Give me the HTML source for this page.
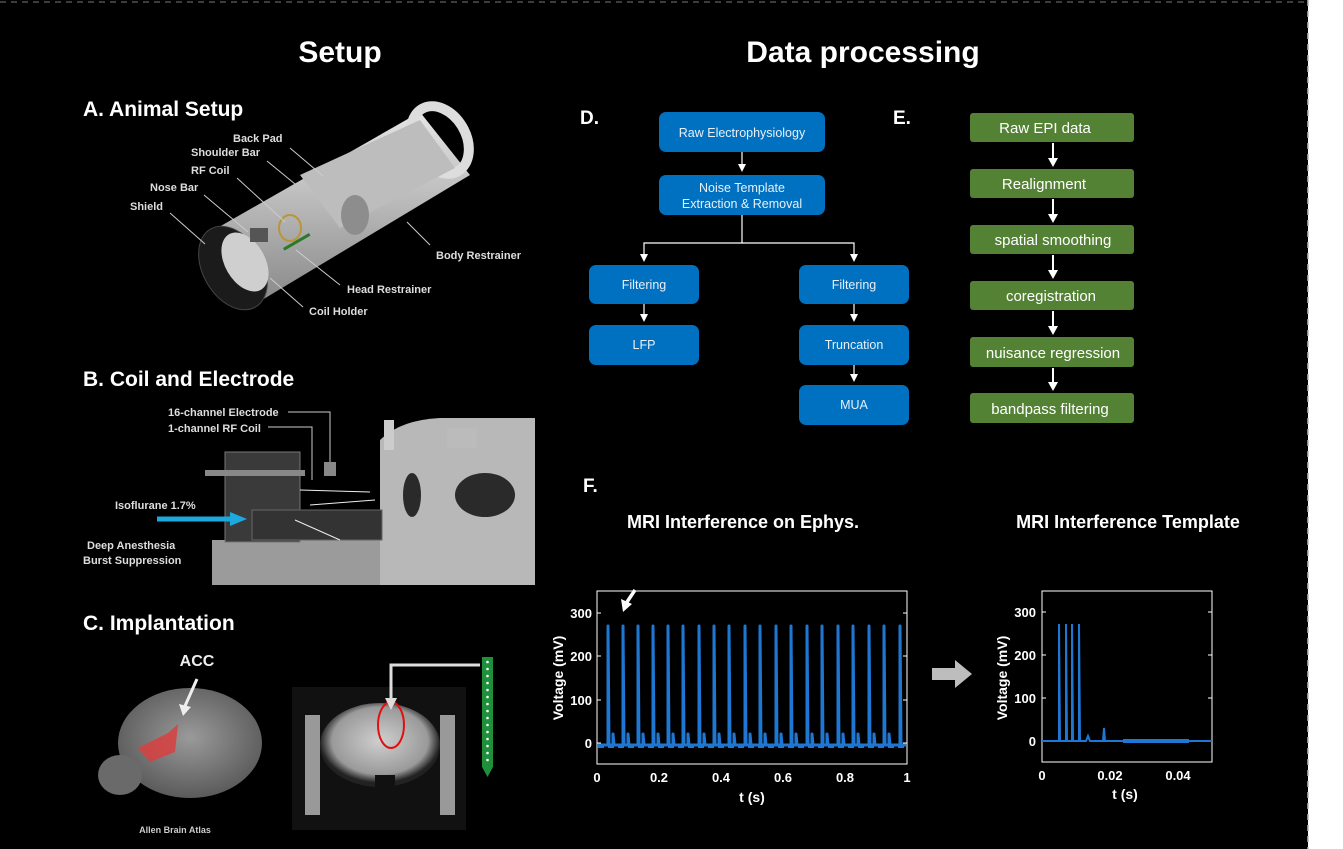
<!DOCTYPE html>
<html><head><meta charset="utf-8"><style>
html,body{margin:0;padding:0;background:#fff}
svg{display:block}
text{font-family:"Liberation Sans",Arial,sans-serif}
</style></head><body>
<svg width="1343" height="849" viewBox="0 0 1343 849" xmlns="http://www.w3.org/2000/svg">
<defs>
<marker id="ah" markerWidth="8" markerHeight="8" refX="4" refY="4" orient="auto" markerUnits="userSpaceOnUse"><path d="M0,0 L8,4 L0,8 z" fill="#fff"/></marker>
<linearGradient id="gc" x1="0" y1="0" x2="0" y2="1"><stop offset="0" stop-color="#e6e6e6"/><stop offset="1" stop-color="#8a8a8a"/></linearGradient>
<radialGradient id="br" cx="0.5" cy="0.45" r="0.6"><stop offset="0" stop-color="#9a9a9a"/><stop offset="1" stop-color="#555"/></radialGradient>
<radialGradient id="mri" cx="0.5" cy="0.45" r="0.5"><stop offset="0" stop-color="#cfcfcf"/><stop offset="0.8" stop-color="#9a9a9a"/><stop offset="1" stop-color="#222"/></radialGradient>
</defs>
<rect x="0" y="0" width="1308" height="849" fill="#000"/>
<line x1="1308" y1="0" x2="1308" y2="849" stroke="#bbb" stroke-width="1.5" stroke-dasharray="6,5"/>
<line x1="0" y1="2" x2="1308" y2="2" stroke="#777" stroke-width="1" stroke-dasharray="6,5"/>

<text x="340" y="62" fill="#fff" font-size="30" font-weight="bold" text-anchor="middle">Setup</text>
<text x="863" y="62" fill="#fff" font-size="30" font-weight="bold" text-anchor="middle">Data processing</text>

<!-- A -->
<text x="83" y="116" fill="#fff" font-size="21" font-weight="bold">A. Animal Setup</text>
<g>
 <polygon points="205,235 420,112 470,175 262,300" fill="url(#gc)"/>
 <ellipse cx="233" cy="268" rx="30" ry="45" transform="rotate(-30 233 268)" fill="#1b1b1b" stroke="#444"/>
 <ellipse cx="245" cy="262" rx="20" ry="32" transform="rotate(-30 245 262)" fill="#cfcfcf"/>
 <ellipse cx="440" cy="140" rx="26" ry="36" transform="rotate(-30 440 140)" fill="none" stroke="#ddd" stroke-width="10"/>
 <polygon points="300,175 420,120 455,168 340,228" fill="#bdbdbd"/>
 <ellipse cx="355" cy="215" rx="14" ry="20" fill="#8d8d8d"/>
 <ellipse cx="290" cy="228" rx="11" ry="13" fill="none" stroke="#b8953b" stroke-width="2"/>
 <rect x="283" y="248" width="30" height="3" fill="#2a7a2a" transform="rotate(-30 283 248)"/>
 <rect x="250" y="228" width="18" height="14" fill="#555"/>
</g>
<g fill="#ddd" font-size="11" font-weight="bold">
 <text x="233" y="142">Back Pad</text>
 <text x="191" y="156">Shoulder Bar</text>
 <text x="191" y="174">RF Coil</text>
 <text x="150" y="191">Nose Bar</text>
 <text x="130" y="210">Shield</text>
 <text x="436" y="259">Body Restrainer</text>
 <text x="347" y="293">Head Restrainer</text>
 <text x="309" y="315">Coil Holder</text>
</g>
<g stroke="#ccc" stroke-width="1">
 <line x1="290" y1="148" x2="323" y2="176"/><line x1="267" y1="161" x2="295" y2="184"/>
 <line x1="237" y1="178" x2="285" y2="222"/><line x1="204" y1="195" x2="248" y2="232"/>
 <line x1="170" y1="213" x2="205" y2="244"/><line x1="407" y1="222" x2="430" y2="245"/>
 <line x1="340" y1="285" x2="296" y2="250"/><line x1="303" y1="307" x2="270" y2="278"/>
</g>

<!-- B -->
<text x="83" y="386" fill="#fff" font-size="21" font-weight="bold">B. Coil and Electrode</text>
<g>
 <rect x="212" y="540" width="323" height="45" fill="#9b9b9b"/>
 <path d="M380,440 Q400,420 440,418 L535,418 L535,585 L380,585 z" fill="#b8b8b8"/>
 <ellipse cx="412" cy="495" rx="9" ry="22" fill="#2a2a2a"/>
 <ellipse cx="485" cy="495" rx="30" ry="22" fill="#2a2a2a"/>
 <rect x="384" y="420" width="10" height="30" fill="#ccc"/>
 <rect x="447" y="428" width="30" height="20" fill="#bbb"/>
 <rect x="225" y="452" width="75" height="90" fill="#3a3a3a" stroke="#777"/>
 <rect x="205" y="470" width="100" height="6" fill="#888"/>
 <rect x="252" y="510" width="130" height="30" fill="#333" stroke="#666"/>
 <path d="M300,490 L370,492 M310,505 L375,500 M295,520 L340,540" stroke="#eee" stroke-width="1" fill="none"/>
 <rect x="324" y="462" width="12" height="14" fill="#888"/>
</g>
<g fill="#ddd" font-size="11" font-weight="bold">
 <text x="168" y="416">16-channel Electrode</text>
 <text x="168" y="432">1-channel RF Coil</text>
 <text x="115" y="509">Isoflurane 1.7%</text>
 <text x="87" y="549">Deep Anesthesia</text>
 <text x="83" y="564">Burst Suppression</text>
</g>
<polyline points="288,412 330,412 330,462" fill="none" stroke="#ccc" stroke-width="1"/>
<polyline points="268,427 312,427 312,480" fill="none" stroke="#ccc" stroke-width="1"/>
<line x1="157" y1="519" x2="232" y2="519" stroke="#1ba9e0" stroke-width="5"/>
<polygon points="230,512 247,519 230,526" fill="#1ba9e0"/>

<!-- C -->
<text x="83" y="630" fill="#fff" font-size="21" font-weight="bold">C. Implantation</text>
<text x="197" y="666" fill="#eee" font-size="16" font-weight="bold" text-anchor="middle">ACC</text>
<ellipse cx="190" cy="743" rx="72" ry="55" fill="url(#br)"/>
<ellipse cx="120" cy="775" rx="22" ry="20" fill="#6a6a6a"/>
<polygon points="138,748 168,733 178,724 175,752 150,762" fill="#d9403f" opacity="0.85"/>
<line x1="197" y1="679" x2="185" y2="706" stroke="#eee" stroke-width="3"/>
<polygon points="179,704 183,716 191,707" fill="#eee"/>
<text x="175" y="833" fill="#ccc" font-size="9" font-weight="bold" text-anchor="middle">Allen Brain Atlas</text>
<rect x="292" y="687" width="174" height="143" fill="#111"/>
<ellipse cx="380" cy="745" rx="60" ry="42" fill="url(#mri)"/>
<rect x="305" y="715" width="15" height="100" fill="#999"/>
<rect x="440" y="715" width="15" height="100" fill="#999"/>
<rect x="375" y="775" width="20" height="12" fill="#111"/>
<ellipse cx="391" cy="725" rx="13" ry="23" fill="none" stroke="#e01010" stroke-width="2"/>
<polyline points="480,665 391,665 391,700" fill="none" stroke="#ddd" stroke-width="3"/>
<polygon points="385,698 391,710 397,698" fill="#ddd"/>
<polygon points="482,657 493,657 493,767 487.5,777 482,767" fill="#1e8f3a"/>
<g fill="#fff"><circle cx="487.5" cy="662" r="1.3"/><circle cx="487.5" cy="669" r="1.3"/><circle cx="487.5" cy="676" r="1.3"/><circle cx="487.5" cy="683" r="1.3"/><circle cx="487.5" cy="690" r="1.3"/><circle cx="487.5" cy="697" r="1.3"/><circle cx="487.5" cy="704" r="1.3"/><circle cx="487.5" cy="711" r="1.3"/><circle cx="487.5" cy="718" r="1.3"/><circle cx="487.5" cy="725" r="1.3"/><circle cx="487.5" cy="732" r="1.3"/><circle cx="487.5" cy="739" r="1.3"/><circle cx="487.5" cy="746" r="1.3"/><circle cx="487.5" cy="753" r="1.3"/><circle cx="487.5" cy="760" r="1.3"/></g>

<!-- D -->
<text x="580" y="124" fill="#fff" font-size="19" font-weight="bold">D.</text>
<g fill="#0070c0">
 <rect x="659" y="112" width="166" height="40" rx="7"/>
 <rect x="659" y="175" width="166" height="40" rx="7"/>
 <rect x="589" y="265" width="110" height="39" rx="7"/>
 <rect x="589" y="325" width="110" height="40" rx="7"/>
 <rect x="799" y="265" width="110" height="39" rx="7"/>
 <rect x="799" y="325" width="110" height="40" rx="7"/>
 <rect x="799" y="385" width="110" height="40" rx="7"/>
</g>
<g fill="#e8f0f8" font-size="12.5" text-anchor="middle">
 <text x="742" y="137">Raw Electrophysiology</text>
 <text x="742" y="192">Noise Template</text>
 <text x="742" y="208">Extraction &amp; Removal</text>
 <text x="644" y="289">Filtering</text>
 <text x="644" y="349">LFP</text>
 <text x="854" y="289">Filtering</text>
 <text x="854" y="349">Truncation</text>
 <text x="854" y="409">MUA</text>
</g>
<g stroke="#fff" stroke-width="1.2" fill="none">
 <line x1="742" y1="152" x2="742" y2="168" marker-end="url(#ah)"/>
 <polyline points="742,215 742,243 644,243 644,258" marker-end="url(#ah)"/>
 <polyline points="742,243 854,243 854,258" marker-end="url(#ah)"/>
 <line x1="644" y1="304" x2="644" y2="318" marker-end="url(#ah)"/>
 <line x1="854" y1="304" x2="854" y2="318" marker-end="url(#ah)"/>
 <line x1="854" y1="365" x2="854" y2="378" marker-end="url(#ah)"/>
</g>

<!-- E -->
<text x="893" y="124" fill="#fff" font-size="19" font-weight="bold">E.</text>
<g fill="#548235">
 <rect x="970" y="113" width="164" height="29" rx="3"/>
 <rect x="970" y="169" width="164" height="29" rx="3"/>
 <rect x="970" y="225" width="164" height="29" rx="3"/>
 <rect x="970" y="281" width="164" height="29" rx="3"/>
 <rect x="970" y="337" width="164" height="30" rx="3"/>
 <rect x="970" y="393" width="164" height="30" rx="3"/>
</g>
<g fill="#fff" font-size="15" text-anchor="middle">
 <text x="1045" y="133">Raw EPI data</text>
 <text x="1044" y="189">Realignment</text>
 <text x="1053" y="245">spatial smoothing</text>
 <text x="1051" y="301">coregistration</text>
 <text x="1053" y="358">nuisance regression</text>
 <text x="1050" y="414">bandpass filtering</text>
</g>
<g stroke="#fff" stroke-width="2" fill="#fff">
 <line x1="1053" y1="143" x2="1053" y2="160"/><polygon points="1048,158 1053,167 1058,158" stroke="none"/>
 <line x1="1053" y1="199" x2="1053" y2="216"/><polygon points="1048,214 1053,223 1058,214" stroke="none"/>
 <line x1="1053" y1="255" x2="1053" y2="272"/><polygon points="1048,270 1053,279 1058,270" stroke="none"/>
 <line x1="1053" y1="311" x2="1053" y2="328"/><polygon points="1048,326 1053,335 1058,326" stroke="none"/>
 <line x1="1053" y1="368" x2="1053" y2="384"/><polygon points="1048,382 1053,391 1058,382" stroke="none"/>
</g>

<!-- F -->
<text x="583" y="492" fill="#fff" font-size="19" font-weight="bold">F.</text>
<text x="743" y="528" fill="#fff" font-size="18" font-weight="bold" text-anchor="middle">MRI Interference on Ephys.</text>
<text x="1128" y="528" fill="#fff" font-size="18" font-weight="bold" text-anchor="middle">MRI Interference Template</text>

<!-- plot 1 -->
<g>
 <rect x="597" y="591" width="310" height="173" fill="none" stroke="#fff" stroke-width="1"/>
 <g stroke="#fff" stroke-width="1">
  <line x1="597" y1="613" x2="601" y2="613"/><line x1="597" y1="656" x2="601" y2="656"/><line x1="597" y1="700" x2="601" y2="700"/><line x1="597" y1="743" x2="601" y2="743"/>
  <line x1="903" y1="613" x2="907" y2="613"/><line x1="903" y1="656" x2="907" y2="656"/><line x1="903" y1="700" x2="907" y2="700"/><line x1="903" y1="743" x2="907" y2="743"/>
 </g>
 <g fill="#fff" font-size="13" font-weight="bold" text-anchor="end">
  <text x="592" y="618">300</text><text x="592" y="661">200</text><text x="592" y="705">100</text><text x="592" y="748">0</text>
 </g>
 <g fill="#fff" font-size="13" font-weight="bold" text-anchor="middle">
  <text x="597" y="782">0</text><text x="659" y="782">0.2</text><text x="721" y="782">0.4</text><text x="783" y="782">0.6</text><text x="845" y="782">0.8</text><text x="907" y="782">1</text>
  <text x="752" y="802" font-size="14">t (s)</text>
 </g>
 <text transform="translate(563,678) rotate(-90)" fill="#fff" font-size="14" font-weight="bold" text-anchor="middle">Voltage (mV)</text>
 <path fill="none" stroke="#1f77d4" stroke-width="3" stroke-linejoin="round" d="M598,745 L608,745 L608,626 L609,745 L613,745 L613,734 L614,745 L623,745 L623,626 L624,745 L628,745 L628,734 L629,745 L638,745 L638,626 L639,745 L643,745 L643,734 L644,745 L653,745 L653,626 L654,745 L658,745 L658,734 L659,745 L668,745 L668,626 L669,745 L673,745 L673,734 L674,745 L683,745 L683,626 L684,745 L688,745 L688,734 L689,745 L699,745 L699,626 L700,745 L704,745 L704,734 L705,745 L714,745 L714,626 L715,745 L719,745 L719,734 L720,745 L729,745 L729,626 L730,745 L734,745 L734,734 L735,745 L745,745 L745,626 L746,745 L750,745 L750,734 L751,745 L760,745 L760,626 L761,745 L765,745 L765,734 L766,745 L776,745 L776,626 L777,745 L781,745 L781,734 L782,745 L791,745 L791,626 L792,745 L796,745 L796,734 L797,745 L807,745 L807,626 L808,745 L812,745 L812,734 L813,745 L822,745 L822,626 L823,745 L827,745 L827,734 L828,745 L838,745 L838,626 L839,745 L843,745 L843,734 L844,745 L853,745 L853,626 L854,745 L858,745 L858,734 L859,745 L869,745 L869,626 L870,745 L874,745 L874,734 L875,745 L884,745 L884,626 L885,745 L889,745 L889,734 L890,745 L900,745 L900,626 L901,745 L906,745"/>
 <line x1="598" y1="746" x2="906" y2="746" stroke="#1f77d4" stroke-width="4" stroke-dasharray="6,4"/>
 <line x1="635" y1="590" x2="627" y2="602" stroke="#fff" stroke-width="3.5"/>
 <polygon points="621,599 623,612 632,604" fill="#fff"/>
</g>

<polygon points="932,668 955,668 955,660 972,674 955,688 955,680 932,680" fill="#bdbdbd"/>

<!-- plot 2 -->
<g>
 <rect x="1042" y="591" width="170" height="171" fill="none" stroke="#fff" stroke-width="1"/>
 <g stroke="#fff" stroke-width="1">
  <line x1="1042" y1="612" x2="1046" y2="612"/><line x1="1042" y1="655" x2="1046" y2="655"/><line x1="1042" y1="698" x2="1046" y2="698"/><line x1="1042" y1="741" x2="1046" y2="741"/>
  <line x1="1208" y1="612" x2="1212" y2="612"/><line x1="1208" y1="655" x2="1212" y2="655"/><line x1="1208" y1="698" x2="1212" y2="698"/>
 </g>
 <g fill="#fff" font-size="13" font-weight="bold" text-anchor="end">
  <text x="1036" y="617">300</text><text x="1036" y="660">200</text><text x="1036" y="703">100</text><text x="1036" y="746">0</text>
 </g>
 <g fill="#fff" font-size="13" font-weight="bold" text-anchor="middle">
  <text x="1042" y="780">0</text><text x="1110" y="780">0.02</text><text x="1178" y="780">0.04</text>
  <text x="1125" y="799" font-size="14">t (s)</text>
 </g>
 <text transform="translate(1007,678) rotate(-90)" fill="#fff" font-size="14" font-weight="bold" text-anchor="middle">Voltage (mV)</text>
 <path fill="none" stroke="#1f77d4" stroke-width="2" d="M1042,741 L1059,741 L1059,624 L1060,741 L1066,741 L1066,624 L1067,741 L1072,741 L1072,624 L1073,741 L1079,741 L1079,624 L1080,741 L1086,741 L1088,736 L1090,741 L1103,741 L1104,728 L1105,741 L1212,741"/>
 <line x1="1123" y1="741" x2="1189" y2="741" stroke="#1f77d4" stroke-width="4"/>
</g>
</svg>
</body></html>
